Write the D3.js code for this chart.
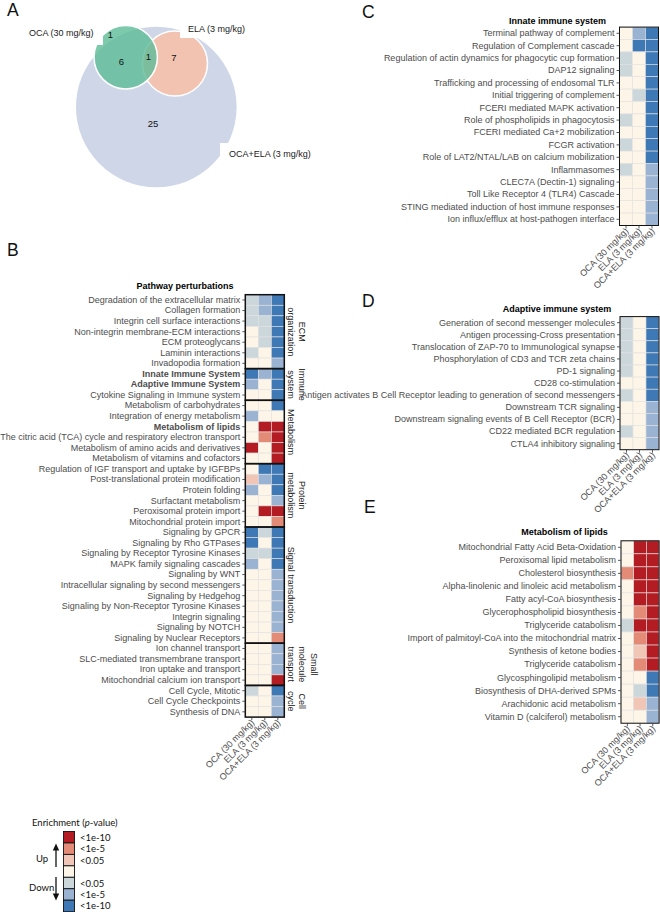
<!DOCTYPE html>
<html><head><meta charset="utf-8">
<script src="https://cdn.jsdelivr.net/npm/d3@7"></script>
<style>body{margin:0;background:#fff} svg{display:block}</style>
</head><body><svg id="c" width="660" height="912"></svg>
<script>
// ---------------- DATA ----------------
const treatments = ["OCA (30 mg/kg)", "ELA (3 mg/kg)", "OCA+ELA (3 mg/kg)"];
// enrichment level codes: +3 up <1e-10 ... -3 down <1e-10, 0 = n.s.
const levelCodes = [3, 2, 1, 0, -1, -2, -3];
const levelLabels = ["<1e-10", "<1e-5", "<0.05", "", "<0.05", "<1e-5", "<1e-10"];

// Venn (panel A)
const vennSets = ["OCA (30 mg/kg)", "ELA (3 mg/kg)", "OCA+ELA (3 mg/kg)"];
const vennRegions = ["OCA only", "OCA & OCA+ELA", "all three", "ELA & OCA+ELA", "OCA+ELA only"];
const vennCounts = [1, 6, 1, 7, 25];

// Panel B
const bGroupNames = ["ECM organization", "Immune system", "Metabolism", "Protein metabolism", "Signal transduction", "Small molecule transport", "Cell cycle"];
const bGroupSizes = [7, 3, 6, 6, 11, 4, 3];
const bPathways = [
  "Degradation of the extracellular matrix", "Collagen formation", "Integrin cell surface interactions",
  "Non-integrin membrane-ECM interactions", "ECM proteoglycans", "Laminin interactions", "Invadopodia formation",
  "Innate Immune System", "Adaptive Immune System", "Cytokine Signaling in Immune system",
  "Metabolism of carbohydrates", "Integration of energy metabolism", "Metabolism of lipids",
  "The citric acid (TCA) cycle and respiratory electron transport", "Metabolism of amino acids and derivatives",
  "Metabolism of vitamins and cofactors",
  "Regulation of IGF transport and uptake by IGFBPs", "Post-translational protein modification", "Protein folding",
  "Surfactant metabolism", "Peroxisomal protein import", "Mitochondrial protein import",
  "Signaling by GPCR", "Signaling by Rho GTPases", "Signaling by Receptor Tyrosine Kinases",
  "MAPK family signaling cascades", "Signaling by WNT", "Intracellular signaling by second messengers",
  "Signaling by Hedgehog", "Signaling by Non-Receptor Tyrosine Kinases", "Integrin signaling",
  "Signaling by NOTCH", "Signaling by Nuclear Receptors",
  "Ion channel transport", "SLC-mediated transmembrane transport", "Iron uptake and transport",
  "Mitochondrial calcium ion transport",
  "Cell Cycle, Mitotic", "Cell Cycle Checkpoints", "Synthesis of DNA"
];
const bBold = ["Innate Immune System", "Adaptive Immune System", "Metabolism of lipids"];
const bValues = [
  [-1,-2,-3],[-1,-2,-3],[-1,-1,-3],[0,-1,-3],[0,-1,-3],[-1,0,-3],[0,0,-2],
  [-3,-2,-3],[-2,0,-3],[0,0,-3],
  [0,0,-3],[-2,0,0],[0,3,3],[0,2,3],[3,0,3],[0,0,3],
  [0,-3,-3],[1,-2,-3],[-2,0,-3],[0,0,-2],[0,3,3],[0,0,2],
  [-3,-1,-3],[-3,0,-3],[-1,-1,-3],[-2,0,-3],[0,0,-2],[0,0,-2],[0,0,-2],[0,0,-2],[0,0,-2],[0,0,-2],[0,0,2],
  [0,0,-2],[0,0,-2],[0,0,-2],[0,0,3],
  [-1,0,-3],[0,0,-2],[0,0,-2]
];

// Panel C
const cPathways = [
  "Terminal pathway of complement", "Regulation of Complement cascade",
  "Regulation of actin dynamics for phagocytic cup formation", "DAP12 signaling",
  "Trafficking and processing of endosomal TLR", "Initial triggering of complement",
  "FCERI mediated MAPK activation", "Role of phospholipids in phagocytosis",
  "FCERI mediated Ca+2 mobilization", "FCGR activation",
  "Role of LAT2/NTAL/LAB on calcium mobilization", "Inflammasomes",
  "CLEC7A (Dectin-1) signaling", "Toll Like Receptor 4 (TLR4) Cascade",
  "STING mediated induction of host immune responses", "Ion influx/efflux at host-pathogen interface"
];
const cValues = [
  [0,-2,-3],[0,-3,-3],[-1,0,-3],[-1,0,-3],[0,0,-3],[0,-1,-3],[0,0,-3],[-1,0,-3],
  [0,0,-3],[-1,0,-3],[0,0,-3],[-1,0,-2],[0,0,-2],[0,0,-2],[0,0,-2],[0,0,-2]
];

// Panel D
const dPathways = [
  "Generation of second messenger molecules", "Antigen processing-Cross presentation",
  "Translocation of ZAP-70 to Immunological synapse", "Phosphorylation of CD3 and TCR zeta chains",
  "PD-1 signaling", "CD28 co-stimulation",
  "Antigen activates B Cell Receptor leading to generation of second messengers",
  "Downstream TCR signaling", "Downstream signaling events of B Cell Receptor (BCR)",
  "CD22 mediated BCR regulation", "CTLA4 inhibitory signaling"
];
const dValues = [
  [-1,0,-3],[-1,0,-3],[-1,0,-3],[-1,0,-3],[-1,0,-3],[0,0,-3],[-1,0,-3],
  [0,0,-2],[0,0,-2],[-1,0,-2],[0,0,-2]
];

// Panel E
const ePathways = [
  "Mitochondrial Fatty Acid Beta-Oxidation", "Peroxisomal lipid metabolism", "Cholesterol biosynthesis",
  "Alpha-linolenic and linoleic acid metabolism", "Fatty acyl-CoA biosynthesis",
  "Glycerophospholipid biosynthesis", "Triglyceride catabolism",
  "Import of palmitoyl-CoA into the mitochondrial matrix", "Synthesis of ketone bodies",
  "Triglyceride catabolism", "Glycosphingolipid metabolism", "Biosynthesis of DHA-derived SPMs",
  "Arachidonic acid metabolism", "Vitamin D (calciferol) metabolism"
];
const eValues = [
  [0,3,3],[0,3,3],[2,3,3],[0,3,3],[0,3,3],[0,2,3],[-1,3,3],
  [0,2,3],[0,1,3],[0,2,3],[0,0,-3],[0,-1,-3],[0,1,-2],[0,0,-2]
];

// ---------------- STYLE / LAYOUT ----------------
const levelColors = ["#b31c23", "#e38b77", "#f1c6b7", "#fdf5e7", "#ccd7dc", "#9bb3d2", "#3e79b6"];
const FONT = "'Liberation Sans', Arial, Helvetica, sans-serif";
const FONT2 = "Lato, 'Open Sans', sans-serif";
const svg = d3.select("#c");
const color = d3.scaleOrdinal().domain(levelCodes).range(levelColors);

// ---------------- PANEL LETTERS ----------------
const letters = [["A",7,16],["B",7,255.5],["C",362,17.5],["D",362,307],["E",364,513]];
svg.append("g").selectAll("text").data(letters).join("text")
  .attr("x",d=>d[1]).attr("y",d=>d[2]).text(d=>d[0])
  .attr("font-family",FONT).attr("font-size",17.5).attr("fill","#111");

// ---------------- VENN ----------------
const vennCircles = [
  {cx:125.7, cy:57.2, r:31.7, fill:"#5dbb97", op:0.8},
  {cx:175,   cy:63.5, r:32.5, fill:"#f3c3b2", op:1},
  {cx:156.3, cy:107,  r:80.3, fill:"#ced6e7", op:1}
];
const vennG = svg.append("g");
vennG.selectAll("circle").data([2,1,0]).join("circle")
  .attr("cx",i=>vennCircles[i].cx).attr("cy",i=>vennCircles[i].cy).attr("r",i=>vennCircles[i].r)
  .attr("fill",i=>vennCircles[i].fill).attr("fill-opacity",i=>vennCircles[i].op)
  .attr("stroke",i=>i===2?"none":"#fff").attr("stroke-width",1.5);
const vennLabelBoxes = [[24,26,79,19],[180,20,70,18],[220,143,95,22]];
vennG.selectAll("rect.lb").data(vennLabelBoxes).join("rect").attr("class","lb")
  .attr("x",d=>d[0]).attr("y",d=>d[1]).attr("width",d=>d[2]).attr("height",d=>d[3]).attr("fill","#fff");
const vennLabelPos = [[29,35.5],[188,32],[229,157]];
vennG.selectAll("text.sl").data(vennSets).join("text").attr("class","sl")
  .attr("x",(d,i)=>vennLabelPos[i][0]).attr("y",(d,i)=>vennLabelPos[i][1]).text(d=>d)
  .attr("font-family",FONT).attr("font-size",9).attr("fill","#222");
const vennCountPos = [[110.5,34.5],[121.5,61],[148.5,56],[174,57.5],[153,123.5]];
vennG.selectAll("text.ct").data(vennCounts).join("text").attr("class","ct")
  .attr("x",(d,i)=>vennCountPos[i][0]).attr("y",(d,i)=>vennCountPos[i][1]).text(d=>d)
  .attr("text-anchor","middle").attr("dominant-baseline","central")
  .attr("font-family",FONT).attr("font-size",9.5).attr("fill","#111");

// ---------------- HEATMAP FUNCTION ----------------
function heatmap(o){
  const n = o.names.length;
  const g = svg.append("g");
  const x = d3.scaleBand().domain(treatments).range([o.left, o.left + o.cellW*3]);
  const y = d3.scaleBand().domain(d3.range(n)).range([o.top, o.top + o.rowH*n]);
  const bottom = o.top + o.rowH*n;
  const cells = o.values.flatMap((row,i)=>row.map((v,j)=>({i,j,v})));
  g.append("g").selectAll("rect").data(cells).join("rect")
    .attr("x",d=>x(treatments[d.j])).attr("y",d=>y(d.i))
    .attr("width",x.bandwidth()).attr("height",y.bandwidth())
    .attr("fill",d=>color(d.v)).attr("stroke","#e2e2e2").attr("stroke-width",0.6);
  const groups = o.groups || [[0,n-1]];
  g.append("g").selectAll("rect").data(groups).join("rect")
    .attr("x",o.left).attr("y",d=>y(d[0]))
    .attr("width",o.cellW*3).attr("height",d=>y(d[1])+y.bandwidth()-y(d[0]))
    .attr("fill","none").attr("stroke","#111").attr("stroke-width",o.borderW||1);
  // y axis
  const ya = g.append("g").attr("transform",`translate(${o.left},0)`)
    .call(d3.axisLeft(y).tickSize(3).tickPadding(2).tickFormat(i=>o.names[i]));
  ya.attr("font-family",FONT).attr("font-size",9);
  ya.select(".domain").remove();
  ya.selectAll(".tick line").attr("stroke","#333").attr("stroke-width",0.8);
  ya.selectAll(".tick text").attr("fill","#4d4d4d")
    .attr("font-weight",i=>(o.bold||[]).includes(o.names[i])?"bold":null);
  // x axis
  const xa = g.append("g").attr("transform",`translate(0,${bottom})`)
    .call(d3.axisBottom(x).tickSize(3).tickPadding(0));
  xa.attr("font-family",FONT).attr("font-size",9);
  xa.select(".domain").remove();
  xa.selectAll(".tick line").attr("stroke","#333").attr("stroke-width",0.8);
  xa.selectAll(".tick text").attr("fill","#4d4d4d").attr("y",0).attr("dy","0.71em")
    .attr("text-anchor","end").attr("transform","translate(-1.5,1.5) rotate(-45)");
  // title
  g.append("text").attr("x",o.titleX).attr("y",o.titleY).text(o.title)
    .attr("text-anchor","middle").attr("font-weight","bold").attr("font-size",9)
    .attr("font-family",FONT).attr("fill","#000");
  return {g,x,y,bottom};
}

// ---------------- PANEL B ----------------
const ends = d3.cumsum(bGroupSizes);
const bRanges = bGroupSizes.map((s,k)=>[ends[k]-s, ends[k]-1]);
const B = heatmap({names:bPathways, values:bValues, left:245.3, top:294.7, rowH:10.56, cellW:13,
  groups:bRanges, borderW:1.5, bold:bBold, title:"Pathway perturbations", titleX:185, titleY:289});
const bStripLines = {
  "ECM organization":["ECM","organization"], "Immune system":["Immune","system"],
  "Metabolism":["Metabolism"], "Protein metabolism":["Protein","metabolism"],
  "Signal transduction":["Signal transduction"], "Small molecule transport":["Small","molecule","transport"],
  "Cell cycle":["Cell","cycle"]
};
const stripX0 = 245.3 + 39 + 6.5;
bGroupNames.forEach((name,k)=>{
  const [a,b] = bRanges[k];
  const yc = (B.y(a) + B.y(b) + B.y.bandwidth())/2;
  const lines = bStripLines[name];
  lines.forEach((ln,li)=>{
    const xx = stripX0 + (lines.length-1-li)*11.5;
    B.g.append("text").attr("transform",`translate(${xx},${yc}) rotate(90)`)
      .attr("text-anchor","middle").attr("dominant-baseline","central")
      .attr("font-family",FONT).attr("font-size",9).attr("fill","#1a1a1a").text(ln);
  });
});

// ---------------- PANELS C, D, E ----------------
heatmap({names:cPathways, values:cValues, left:619.5, top:27.1, rowH:12.4, cellW:13,
  title:"Innate immune system", titleX:557.5, titleY:23.5});
heatmap({names:dPathways, values:dValues, left:620, top:316.6, rowH:12.1, cellW:13,
  title:"Adaptive immune system", titleX:557, titleY:312});
heatmap({names:ePathways, values:eValues, left:621, top:540.8, rowH:13.03, cellW:12.7,
  title:"Metabolism of lipids", titleX:564.5, titleY:535});

// ---------------- LEGEND ----------------
const lg = svg.append("g").attr("font-family",FONT2).attr("font-size",9.5).attr("fill","#111");
const lt = lg.append("text").attr("x",32).attr("y",826);
lt.append("tspan").text("Enrichment (");
lt.append("tspan").attr("font-style","italic").text("p");
lt.append("tspan").text("-value)");
const boxH = 11.45, boxY0 = 831.5;
lg.selectAll("rect").data(levelCodes).join("rect")
  .attr("x",63.5).attr("y",(d,k)=>boxY0 + k*boxH).attr("width",11).attr("height",boxH)
  .attr("fill",d=>color(d)).attr("stroke","#111").attr("stroke-width",0.9);
lg.selectAll("text.ll").data(levelLabels).join("text").attr("class","ll")
  .attr("x",80).attr("y",(d,k)=>boxY0 + k*boxH + boxH/2).attr("dominant-baseline","central").text(d=>d);
lg.append("text").attr("x",36).attr("y",858).attr("dominant-baseline","central").text("Up");
lg.append("text").attr("x",29).attr("y",887).attr("dominant-baseline","central").text("Down");
lg.append("line").attr("x1",56).attr("x2",56).attr("y1",867).attr("y2",849).attr("stroke","#111").attr("stroke-width",1.3);
lg.append("path").attr("d","M56,843.5 L52.8,850.5 L59.2,850.5 Z").attr("fill","#111");
lg.append("line").attr("x1",56).attr("x2",56).attr("y1",877).attr("y2",895).attr("stroke","#111").attr("stroke-width",1.3);
lg.append("path").attr("d","M56,900.5 L52.8,893.5 L59.2,893.5 Z").attr("fill","#111");
</script></body></html>
